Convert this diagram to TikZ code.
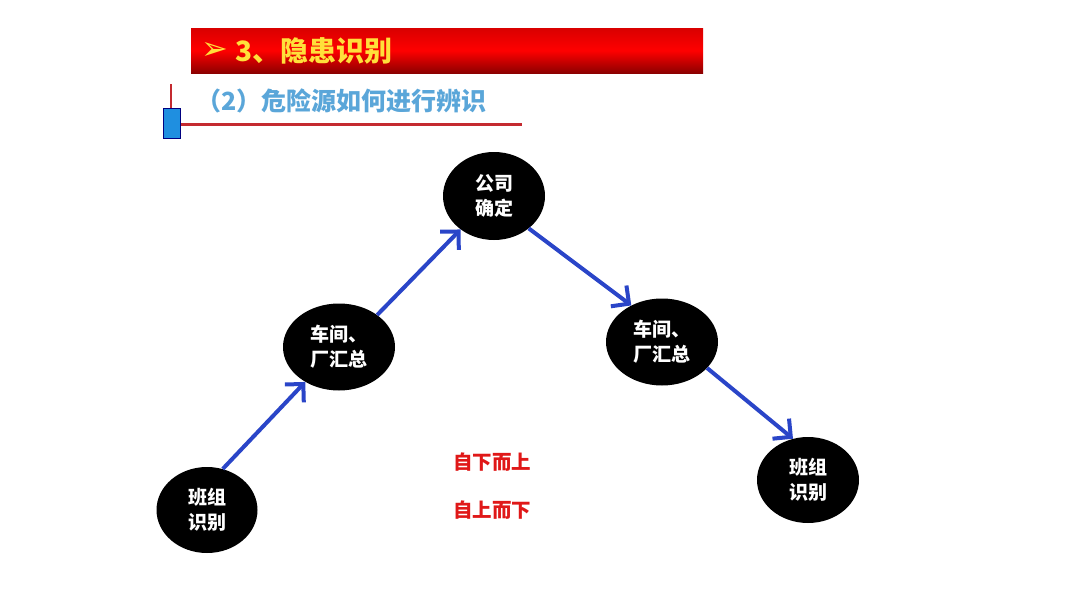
\documentclass[tikz,border=0pt]{standalone}
\usepackage{fontspec}
\newfontfamily\cjk{Noto Sans CJK SC}[BoldFont={Noto Sans CJK SC Black}]
\newfontfamily\dejavu{DejaVu Sans}
\usetikzlibrary{arrows.meta,shapes.geometric}
\definecolor{arrowblue}{HTML}{2A45C8}
\definecolor{subblue}{HTML}{5AA6D9}
\definecolor{linered}{HTML}{C42A30}
\definecolor{titleyellow}{HTML}{FFE03A}
\definecolor{labelred}{HTML}{E01818}
\definecolor{rectblue}{HTML}{1F8FE0}
\tikzset{
  blob/.style={ellipse, fill=black, text=white, inner sep=0pt, align=center,
    font=\cjk\bfseries\fontsize{19}{25}\selectfont},
  flow/.style={draw=arrowblue, line width=4pt,
    -{Straight Barb[length=13pt, width=26pt, line width=4pt]}},
  redlabel/.style={text=labelred, font=\cjk\bfseries\fontsize{19.5}{22}\selectfont, inner sep=0pt}
}
\begin{document}
\begin{tikzpicture}[x=1pt,y=-1pt]
\useasboundingbox (0,0) rectangle (1080,608);
\fill[white] (0,0) rectangle (1080,608);
% title bar
\shade[top color=red!85!black, bottom color=red!55!black, middle color=red] (191,28) rectangle (703,73);
\node[anchor=west, text=titleyellow, inner sep=0pt] (arrowsym) at (201,51) {\dejavu\fontsize{32}{32}\selectfont ➢};
\node[anchor=west, text=titleyellow, inner sep=0pt, font=\cjk\bfseries\fontsize{28}{28}\selectfont] (title) at (235,51) {3、隐患识别};
% subtitle
\node[anchor=west, text=subblue, inner sep=0pt, font=\cjk\bfseries\fontsize{25}{25}\selectfont] (subtitle) at (196,101) {（2）危险源如何进行辨识};
\draw[linered, line width=2pt] (171,84) -- (171,108);
\draw[linered, line width=3pt] (180,124) -- (522,124);
\fill[draw=blue!50!black, fill=rectblue, line width=0.6pt] (163,108) rectangle (180,138);
% nodes
\node[blob, minimum width=101pt, minimum height=86pt] (b1) at (207,510) {班组\\识别};
\node[blob, minimum width=112pt, minimum height=87pt] (c1) at (339,347) {车间、\\厂汇总};
\node[blob, minimum width=102pt, minimum height=88pt] (top) at (494,196) {公司\\确定};
\node[blob, minimum width=112pt, minimum height=87pt] (c2) at (662,342) {车间、\\厂汇总};
\node[blob, minimum width=102pt, minimum height=86pt] (b2) at (808,480) {班组\\识别};
% arrows
\draw[flow] (b1.69) -- (c1.226);
\draw[flow] (c1.40) -- (top.225);
\draw[flow] (top.-43) -- (c2.130);
\draw[flow] (c2.-30) -- (b2.110);
% labels
\node[redlabel] (up) at (492,462) {自下而上};
\node[redlabel] (down) at (492,510) {自上而下};
\end{tikzpicture}
\end{document}
